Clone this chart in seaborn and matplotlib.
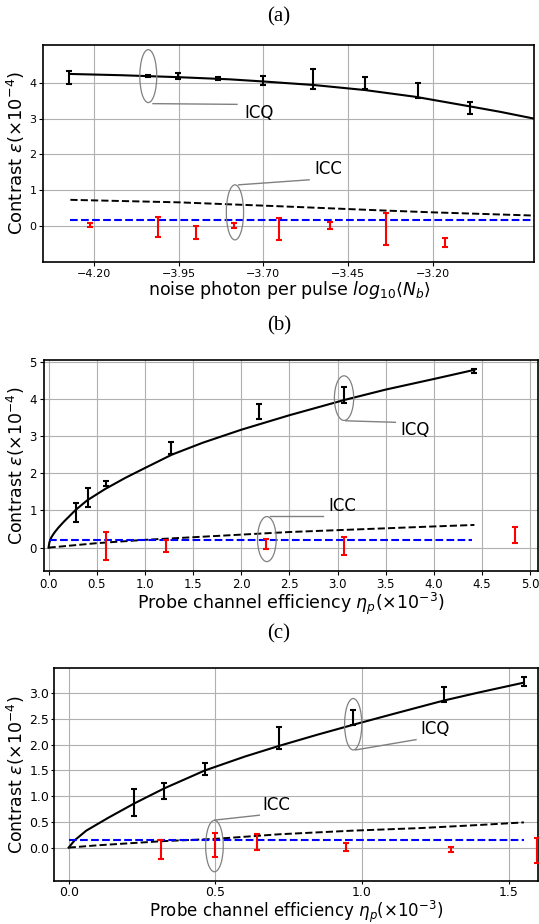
import numpy as np
import pandas as pd
import seaborn as sns
import matplotlib.pyplot as plt
from matplotlib.patches import Ellipse

# ---- panel (a): contrast vs noise photons ----
a_xticks = [-4.20, -3.95, -3.70, -3.45, -3.20]
a_yticks = [0, 1, 2, 3, 4]
a_icq_x = [-4.273, -4.040, -3.951, -3.835, -3.700, -3.555, -3.400, -3.243, -3.089]
a_icq_y = [4.145, 4.20, 4.19, 4.12, 4.075, 4.10, 3.99, 3.78, 3.29]
a_icq_err = [0.18, 0.03, 0.09, 0.047, 0.12, 0.28, 0.17, 0.21, 0.17]
a_icc_x = [-4.211, -4.011, -3.900, -3.786, -3.654, -3.502, -3.339, -3.165]
a_icc_y = [0.03, -0.03, -0.18, 0.014, -0.09, 0.02, -0.09, -0.46]
a_icc_err = [0.047, 0.29, 0.18, 0.06, 0.31, 0.10, 0.44, 0.12]
a_fit_x = [-4.27, -4.12, -3.95, -3.80, -3.70, -3.55, -3.40, -3.25, -3.10, -3.00, -2.90]
a_fit_y = [4.25, 4.215, 4.16, 4.10, 4.04, 3.94, 3.80, 3.61, 3.36, 3.19, 3.00]
a_cls_x = [-4.27, -3.95, -3.625, -3.34, -3.20, -2.90]
a_cls_y = [0.73, 0.66, 0.54, 0.43, 0.38, 0.29]
a_bnd_x = [-4.27, -2.90]
a_bnd_y = [0.17, 0.17]

# ---- panel (b): contrast vs probe efficiency ----
b_xticks = [0.0, 0.5, 1.0, 1.5, 2.0, 2.5, 3.0, 3.5, 4.0, 4.5, 5.0]
b_yticks = [0, 1, 2, 3, 4, 5]
b_icq_x = [0.282, 0.414, 0.592, 1.276, 2.185, 3.068, 4.415]
b_icq_y = [0.946, 1.35, 1.72, 2.68, 3.65, 4.10, 4.74]
b_icq_err = [0.25, 0.25, 0.06, 0.16, 0.20, 0.21, 0.05]
b_icc_x = [0.597, 1.219, 2.255, 3.068, 4.838]
b_icc_y = [0.04, 0.046, 0.10, 0.04, 0.34]
b_icc_err = [0.376, 0.15, 0.14, 0.24, 0.22]
b_fit_x = [0, 0.01, 0.03, 0.06, 0.10, 0.16, 0.28, 0.40, 0.59, 0.80, 1.00, 1.28,
           1.60, 2.00, 2.50, 3.07, 3.50, 4.00, 4.42]
b_fit_y = [0, 0.15, 0.28, 0.40, 0.53, 0.70, 1.01, 1.27, 1.58, 1.88, 2.14, 2.50,
           2.82, 3.17, 3.56, 3.97, 4.25, 4.535, 4.78]
b_cls_x = [0, 0.5, 1.0, 1.5, 2.0, 2.5, 3.0, 3.5, 4.0, 4.42]
b_cls_y = [0, 0.12, 0.21, 0.28, 0.35, 0.42, 0.47, 0.52, 0.57, 0.61]
b_bnd_x = [0, 4.40]
b_bnd_y = [0.20, 0.20]

# ---- panel (c): contrast vs probe efficiency (low range) ----
c_xticks = [0.0, 0.5, 1.0, 1.5]
c_yticks = [0.0, 0.5, 1.0, 1.5, 2.0, 2.5, 3.0]
c_icq_x = [0.224, 0.325, 0.464, 0.718, 0.970, 1.278, 1.552]
c_icq_y = [0.88, 1.10, 1.53, 2.13, 2.54, 2.97, 3.23]
c_icq_err = [0.256, 0.16, 0.12, 0.21, 0.146, 0.146, 0.08]
c_icc_x = [0.316, 0.500, 0.643, 0.946, 1.302, 1.595]
c_icc_y = [-0.033, 0.05, 0.107, 0.006, -0.04, -0.055]
c_icc_err = [0.19, 0.227, 0.16, 0.08, 0.045, 0.25]
c_fit_x = [0, 0.02, 0.06, 0.135, 0.224, 0.325, 0.464, 0.6, 0.718, 0.85, 0.97, 1.1, 1.278, 1.4, 1.552]
c_fit_y = [0, 0.14, 0.33, 0.58, 0.86, 1.15, 1.50, 1.77, 1.98, 2.20, 2.39, 2.59, 2.86, 3.02, 3.21]
c_cls_x = [0, 0.1, 0.32, 0.5, 0.72, 0.97, 1.2, 1.4, 1.552]
c_cls_y = [0, 0.045, 0.125, 0.17, 0.26, 0.33, 0.38, 0.44, 0.49]
c_bnd_x = [0, 1.552]
c_bnd_y = [0.15, 0.15]

YLAB = r'Contrast $\varepsilon(\times10^{-4})$'
XLAB = r'Probe channel efficiency $\eta_p(\times10^{-3})$'
W, H = 539, 924


def box(l, t, r, b):
    # pixel box -> figure fraction
    return [l / W, 1 - b / H, (r - l) / W, (b - t) / H]


def panel(ax, fit, cls, bnd, icq, icc):
    ax.grid(True, color='#b0b0b0', lw=0.8, zorder=0)
    ax.set_axisbelow(True)
    sns.lineplot(x=fit[0], y=fit[1], ax=ax, color='black', lw=1.5,
                 estimator=None, sort=False)
    sns.lineplot(x=cls[0], y=cls[1], ax=ax, color='black', lw=1.4,
                 linestyle='--', estimator=None, sort=False)
    sns.lineplot(x=bnd[0], y=bnd[1], ax=ax, color='blue', lw=1.5,
                 linestyle='--', estimator=None, sort=False)
    ax.errorbar(icq[0], icq[1], yerr=icq[2], fmt='none', ecolor='black',
                elinewidth=1.5, capsize=2, capthick=1.5, zorder=4)
    ax.errorbar(icc[0], icc[1], yerr=icc[2], fmt='none', ecolor='red',
                elinewidth=1.5, capsize=2, capthick=1.5, zorder=4)
    for s in ax.spines.values():
        s.set_linewidth(1.2)
    ax.tick_params(length=3, pad=2)


def note(ax, label, center, w, h, p0, p1, txt):
    ax.add_patch(Ellipse(center, w, h, fill=False, ec='#808080', lw=0.9, zorder=5))
    ax.plot([p0[0], p1[0]], [p0[1], p1[1]], color='#808080', lw=1.0, zorder=5)
    ax.text(txt[0], txt[1], label, fontsize=12, ha='left', va='center')


fig = plt.figure(figsize=(W / 100, H / 100), dpi=100)

# (a)
ax = fig.add_axes(box(43.3, 45, 534.3, 261.7))
panel(ax, (a_fit_x, a_fit_y), (a_cls_x, a_cls_y), (a_bnd_x, a_bnd_y),
      (a_icq_x, a_icq_y, a_icq_err), (a_icc_x, a_icc_y, a_icc_err))
ax.set_xlim(-4.35, -2.90)
ax.set_ylim(-1.0, 5.06)
ax.set_xticks(a_xticks)
ax.set_yticks(a_yticks)
ax.tick_params(labelsize=8)
ax.set_xlabel(r'noise photon per pulse $log_{10}\langle N_b\rangle$', fontsize=12.5, labelpad=0)
ax.set_ylabel(YLAB, fontsize=13)
ax.yaxis.set_label_coords(-0.034, 0.5)
note(ax, 'ICQ', (-4.04, 4.19), 0.05, 1.48, (-4.026, 3.42), (-3.778, 3.40), (-3.756, 3.17))
note(ax, 'ICC', (-3.784, 0.38), 0.051, 1.54, (-3.773, 1.15), (-3.565, 1.29), (-3.55, 1.58))

# (b)
ax = fig.add_axes(box(43.7, 360, 538, 570.7))
panel(ax, (b_fit_x, b_fit_y), (b_cls_x, b_cls_y), (b_bnd_x, b_bnd_y),
      (b_icq_x, b_icq_y, b_icq_err), (b_icc_x, b_icc_y, b_icc_err))
ax.set_xlim(-0.05, 5.08)
ax.set_ylim(-0.62, 5.045)
ax.set_xticks(b_xticks)
ax.set_yticks(b_yticks)
ax.tick_params(labelsize=8.5)
ax.set_xlabel(XLAB, fontsize=12.5, labelpad=0)
ax.set_ylabel(YLAB, fontsize=12.5)
ax.yaxis.set_label_coords(-0.033, 0.5)
note(ax, 'ICQ', (3.067, 4.02), 0.2, 1.2, (3.086, 3.41), (3.60, 3.37), (3.656, 3.16))
note(ax, 'ICC', (2.266, 0.23), 0.194, 1.21, (2.30, 0.86), (2.85, 0.86), (2.908, 1.12))

# (c)
ax = fig.add_axes(box(54, 667.7, 538, 881))
panel(ax, (c_fit_x, c_fit_y), (c_cls_x, c_cls_y), (c_bnd_x, c_bnd_y),
      (c_icq_x, c_icq_y, c_icq_err), (c_icc_x, c_icc_y, c_icc_err))
ax.set_xlim(-0.05, 1.6)
ax.set_ylim(-0.65, 3.5)
ax.set_xticks(c_xticks)
ax.set_yticks(c_yticks)
ax.tick_params(labelsize=9, pad=1, length=2.5)
ax.set_xlabel(XLAB, fontsize=12, labelpad=0)
ax.set_ylabel(YLAB, fontsize=12.5)
ax.yaxis.set_label_coords(-0.055, 0.5)
note(ax, 'ICQ', (0.970, 2.40), 0.0586, 1.0, (0.978, 1.90), (1.184, 2.10), (1.20, 2.30))
note(ax, 'ICC', (0.497, 0.03), 0.06, 1.0, (0.498, 0.535), (0.65, 0.63), (0.662, 0.83))

for lab, yp in [('(a)', 16.7), ('(b)', 326), ('(c)', 634)]:
    fig.text(279 / W, 1 - yp / H, lab, family='Liberation Serif', fontsize=15,
             ha='center', va='center')

fig.savefig('out.png', dpi=100)
